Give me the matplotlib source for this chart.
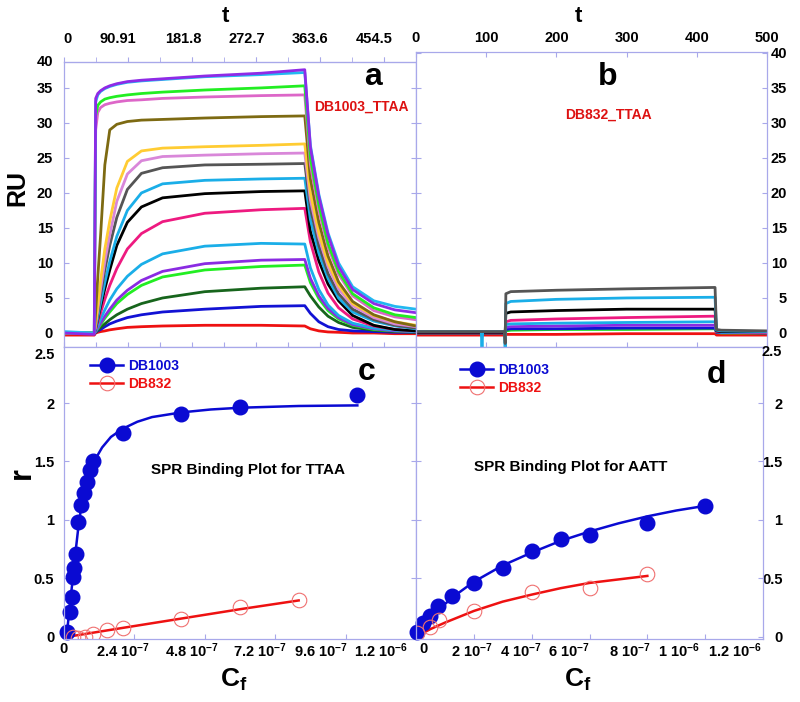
import numpy as np
import matplotlib
matplotlib.use('Agg')
import matplotlib.pyplot as plt
from matplotlib.lines import Line2D
from matplotlib.ticker import MultipleLocator
from matplotlib.transforms import ScaledTranslation

plt.rcParams['font.family'] = ['Liberation Sans', 'DejaVu Sans']
plt.rcParams['font.weight'] = 'bold'
plt.rcParams['axes.labelweight'] = 'bold'
plt.rcParams['mathtext.fontset'] = 'custom'
plt.rcParams['mathtext.rm'] = 'Liberation Sans:bold'
plt.rcParams['mathtext.bf'] = 'Liberation Sans:bold'
plt.rcParams['mathtext.default'] = 'bf'

# ---- panel a: DB1003 on TTAA sensorgrams (RU vs time, s) ----
t_a = [0, 43, 45, 48, 52, 58, 65, 75, 90, 110, 140, 200, 280, 342,
       350, 362, 375, 390, 410, 440, 470, 500]
ru_a_red = [-0.3, -0.3, 0.0, 0.1, 0.2, 0.3, 0.45, 0.6, 0.8, 0.9, 1.0, 1.1, 1.1, 1.0,
            0.6, 0.3, 0.15, 0.1, 0.0, 0.0, -0.1, -0.1]
ru_a_blue = [0.0, 0.0, 0.1, 0.3, 0.5, 0.9, 1.3, 1.7, 2.2, 2.6, 3.0, 3.4, 3.8, 3.9,
             2.8, 1.6, 0.9, 0.5, 0.3, 0.2, 0.1, 0.1]
ru_a_dkgreen = [0.0, 0.0, 0.1, 0.4, 0.8, 1.3, 1.9, 2.6, 3.4, 4.2, 5.0, 5.9, 6.4, 6.6,
                5.3, 3.7, 2.4, 1.5, 0.8, 0.4, 0.2, 0.1]
ru_a_green = [0.0, 0.0, 0.2, 0.6, 1.2, 2.1, 3.0, 4.2, 5.5, 6.8, 8.0, 9.0, 9.5, 9.7,
              7.2, 4.9, 3.2, 2.0, 1.1, 0.5, 0.3, 0.2]
ru_a_purple2 = [0.0, 0.0, 0.2, 0.7, 1.4, 2.4, 3.4, 4.7, 6.1, 7.5, 8.8, 9.9, 10.4, 10.5,
                7.8, 5.3, 3.5, 2.2, 1.2, 0.6, 0.3, 0.2]
ru_a_sky1 = [0.0, 0.0, 0.3, 1.0, 2.0, 3.3, 4.7, 6.3, 8.1, 9.8, 11.3, 12.4, 12.8, 12.7,
             9.3, 6.2, 4.0, 2.5, 1.4, 0.7, 0.4, 0.2]
ru_a_pink = [0.0, 0.0, 0.5, 1.5, 2.9, 4.8, 6.8, 9.2, 12.0, 14.2, 15.9, 17.1, 17.6, 17.8,
             13.0, 8.7, 5.7, 3.6, 2.0, 1.0, 0.5, 0.3]
ru_a_black = [0.0, 0.0, 0.7, 2.0, 3.8, 6.3, 9.0, 12.5, 15.8, 18.0, 19.3, 19.9, 20.2, 20.3,
              14.5, 10.3, 7.0, 4.6, 2.5, 1.1, 0.5, 0.3]
ru_a_sky2 = [0.0, 0.0, 0.8, 2.2, 4.3, 7.2, 10.2, 13.8, 17.5, 20.0, 21.3, 21.8, 22.0, 22.1,
             16.2, 11.4, 7.8, 5.0, 3.0, 1.7, 1.0, 0.6]
ru_a_gray = [0.0, 0.0, 1.0, 2.8, 5.5, 9.0, 12.5, 16.5, 20.5, 22.8, 23.6, 24.0, 24.1, 24.2,
             17.8, 12.5, 8.5, 5.6, 3.4, 1.9, 1.1, 0.7]
ru_a_plum = [0.0, 0.0, 1.2, 3.3, 6.3, 10.2, 14.0, 18.8, 22.7, 24.6, 25.2, 25.4, 25.6, 25.7,
             19.0, 13.6, 9.5, 6.3, 3.9, 2.2, 1.3, 0.9]
ru_a_gold = [0.0, 0.0, 1.5, 4.0, 7.5, 12.0, 16.0, 20.7, 24.5, 26.0, 26.4, 26.6, 26.8, 27.0,
             20.0, 14.3, 10.0, 6.8, 4.2, 2.5, 1.6, 1.1]
ru_a_olive = [0.0, 0.0, 3.0, 8.0, 14.0, 24.0, 29.0, 29.8, 30.2, 30.4, 30.5, 30.7, 30.9, 31.0,
              22.0, 15.8, 11.0, 7.3, 4.5, 2.6, 1.6, 1.0]
ru_a_orchid = [0.0, 0.0, 29.0, 31.5, 32.2, 32.6, 32.8, 33.0, 33.2, 33.3, 33.5, 33.7, 33.9, 34.0,
               24.0, 17.5, 12.3, 8.4, 5.3, 3.2, 2.3, 1.9]
ru_a_green_hi = [0.0, 0.0, 31.0, 32.5, 33.0, 33.4, 33.6, 33.8, 34.0, 34.2, 34.4, 34.7, 35.0, 35.3,
                 25.0, 18.3, 12.8, 8.8, 5.6, 3.6, 2.6, 2.2]
ru_a_cyan = [0.2, 0.0, 33.0, 34.0, 34.5, 34.9, 35.2, 35.5, 35.8, 36.0, 36.2, 36.6, 36.9, 37.2,
             26.8, 19.8, 14.3, 10.0, 6.6, 4.6, 3.8, 3.4]
ru_a_purple = [0.0, -0.2, 33.5, 34.2, 34.6, 35.0, 35.3, 35.6, 35.9, 36.1, 36.3, 36.7, 37.1, 37.6,
               26.5, 19.5, 14.0, 9.5, 6.2, 4.2, 3.3, 2.9]

# ---- panel b: DB832 on TTAA sensorgrams ----
t_b = [0, 93, 94, 95, 126, 127, 128, 135, 200, 300, 426, 428, 435, 500]
ru_b_red = [-0.3, -0.3, -0.3, -0.3, -0.3, -0.3, -0.2, -0.2, -0.2, -0.1, -0.1, -0.3, -0.3, -0.3]
ru_b_green = [0.0, 0.0, 0.0, 0.0, 0.0, 0.0, 0.3, 0.4, 0.5, 0.5, 0.6, 0.1, 0.0, 0.0]
ru_b_blue = [0.0, 0.0, 0.0, 0.0, 0.0, 0.0, 0.5, 0.6, 0.6, 0.7, 0.7, 0.1, 0.1, 0.0]
ru_b_purple = [0.1, 0.1, 0.1, 0.1, 0.1, 0.1, 0.8, 0.9, 1.0, 1.1, 1.1, 0.2, 0.1, 0.1]
ru_b_sky2 = [0.1, 0.1, 0.1, 0.1, 0.1, 0.1, 1.2, 1.3, 1.4, 1.5, 1.6, 0.2, 0.1, 0.1]
ru_b_pink = [0.1, 0.1, 0.1, 0.1, 0.1, 0.1, 1.6, 1.8, 2.0, 2.2, 2.4, 0.2, 0.2, 0.1]
ru_b_black = [0.1, 0.1, 0.1, 0.1, 0.1, 0.1, 2.8, 3.0, 3.2, 3.4, 3.4, 0.3, 0.2, 0.2]
ru_b_sky = [0.2, 0.2, -2.2, 0.2, 0.2, -2.0, 4.2, 4.5, 4.8, 5.0, 5.1, 0.4, 0.3, 0.2]
ru_b_gray = [0.2, 0.2, 0.2, 0.2, 0.2, -1.5, 5.6, 5.9, 6.1, 6.3, 6.5, 0.5, 0.4, 0.3]

# ---- panel c: binding plot TTAA (Cf in units of 1e-7 M) ----
cf_c_db1003 = [0.10, 0.20, 0.27, 0.31, 0.34, 0.41, 0.48, 0.58, 0.68, 0.79, 0.89, 1.0, 2.0, 4.0, 6.0, 10.0]
r_c_db1003 = [0.04, 0.21, 0.34, 0.51, 0.59, 0.71, 0.98, 1.13, 1.23, 1.32, 1.43, 1.50, 1.74, 1.91, 1.97, 2.07]
cf_c_db832 = [0.31, 0.48, 0.72, 0.99, 1.47, 2.0, 4.0, 6.0, 8.0]
r_c_db832 = [0.0, -0.01, 0.0, 0.02, 0.055, 0.075, 0.15, 0.25, 0.31]
fit_cf_c_db1003 = [0.1, 0.2, 0.3, 0.4, 0.5, 0.6, 0.7, 0.85, 1.0, 1.3, 1.6, 2.0, 2.5, 3.0, 4.0, 5.0, 6.0, 8.0, 10.0]
fit_r_c_db1003 = [0.03, 0.27, 0.50, 0.74, 0.96, 1.13, 1.26, 1.40, 1.49, 1.62, 1.71, 1.78, 1.84, 1.88, 1.92, 1.945, 1.96, 1.975, 1.98]
fit_cf_c_db832 = [0.15, 2.0, 4.0, 6.0, 8.0]
fit_r_c_db832 = [0.0, 0.075, 0.155, 0.235, 0.31]

# ---- panel d: binding plot AATT ----
cf_d_db1003 = [0.05, 0.25, 0.5, 0.75, 1.25, 2.0, 3.0, 4.0, 5.0, 6.0, 8.0, 10.0]
r_d_db1003 = [0.04, 0.12, 0.18, 0.26, 0.35, 0.46, 0.59, 0.73, 0.84, 0.87, 0.97, 1.12]
cf_d_db832 = [0.05, 0.5, 0.8, 2.0, 4.0, 6.0, 8.0]
r_d_db832 = [0.03, 0.085, 0.145, 0.22, 0.38, 0.42, 0.54]
fit_cf_d_db1003 = [0.0, 0.25, 0.5, 1.0, 1.5, 2.0, 3.0, 4.0, 5.0, 6.0, 7.0, 8.0, 9.0, 10.0]
fit_r_d_db1003 = [0.02, 0.09, 0.16, 0.28, 0.38, 0.47, 0.61, 0.72, 0.82, 0.90, 0.97, 1.03, 1.08, 1.12]
fit_cf_d_db832 = [0.0, 0.5, 1.0, 2.0, 3.0, 4.0, 5.0, 6.0, 7.0, 8.0]
fit_r_d_db832 = [0.0, 0.065, 0.12, 0.22, 0.30, 0.36, 0.415, 0.46, 0.49, 0.52]

# tick labels
top_ticks_a = [0, 90.91, 181.8, 272.7, 363.6, 454.5]
top_labels_a = ['0', '90.91', '181.8', '272.7', '363.6', '454.5']
cf_ticks_c = [0, 2.4e-7, 4.8e-7, 7.2e-7, 9.6e-7, 1.2e-6]
cf_labels_c = ['0', r'2.4 10$^{-7}$', r'4.8 10$^{-7}$', r'7.2 10$^{-7}$', r'9.6 10$^{-7}$', r'1.2 10$^{-6}$']
cf_ticks_d = [0, 2e-7, 4e-7, 6e-7, 8e-7, 1e-6, 1.2e-6]
cf_labels_d = ['0', r'2 10$^{-7}$', r'4 10$^{-7}$', r'6 10$^{-7}$', r'8 10$^{-7}$', r'1 10$^{-6}$', r'1.2 10$^{-6}$']

FRAME = '#a8a8ea'
BLUE = '#0a0ad2'
RED = '#ee1111'
RED_EDGE = '#f07070'
TICK_FS = 10.5

curves_a = [
    (ru_a_red, '#ee1111'), (ru_a_blue, '#1212d4'), (ru_a_dkgreen, '#17651c'),
    (ru_a_green, '#22ee22'), (ru_a_purple2, '#8a2be2'), (ru_a_sky1, '#1aaee8'),
    (ru_a_pink, '#ee1a80'), (ru_a_black, '#000000'), (ru_a_sky2, '#1aaee8'),
    (ru_a_gray, '#555555'), (ru_a_plum, '#d987d9'), (ru_a_gold, '#ffcc33'),
    (ru_a_olive, '#7d6a12'), (ru_a_orchid, '#dd66c8'), (ru_a_green_hi, '#22ee22'),
    (ru_a_cyan, '#22b8f0'), (ru_a_purple, '#8f2ae6'),
]
curves_b = [
    (ru_b_red, '#ee1111'), (ru_b_green, '#22dd22'), (ru_b_blue, '#1212d4'),
    (ru_b_purple, '#8a2be2'), (ru_b_sky2, '#1aaee8'), (ru_b_pink, '#ee1a80'),
    (ru_b_black, '#000000'), (ru_b_sky, '#1aaee8'), (ru_b_gray, '#555555'),
]


def px_box(x0, y0, x1, y1):
    return [x0 / 800, 1 - y1 / 702, (x1 - x0) / 800, (y1 - y0) / 702]


def style_frame(ax):
    for s in ax.spines.values():
        s.set_color(FRAME)
        s.set_linewidth(0.9)
    ax.tick_params(which='both', color=FRAME, direction='in', length=3.6, labelsize=TICK_FS)


def bold_ticks(ax):
    for lab in ax.get_xticklabels() + ax.get_yticklabels():
        lab.set_fontweight('bold')


def shift_labels(labels, dx_px, dy_px=0):
    for lab, dx in zip(labels, dx_px):
        lab.set_transform(lab.get_transform() + ScaledTranslation(dx / 100, dy_px / 100, fig.dpi_scale_trans))


fig = plt.figure(figsize=(8, 7.02), dpi=100)
ax_a = fig.add_axes(px_box(64, 62, 416, 347))
ax_b = fig.add_axes(px_box(416, 52, 767, 347))
ax_c = fig.add_axes(px_box(64, 347, 416, 639))
ax_d = fig.add_axes(px_box(416, 347, 763, 639))
for ax in (ax_a, ax_b, ax_c, ax_d):
    style_frame(ax)

# panel a
for vals, col in curves_a:
    ax_a.plot(t_a, vals, color=col, lw=2.0)
ax_a.set_xlim(0, 500)
ax_a.set_ylim(-2, 38.7)
ax_a.set_yticks(np.arange(0, 40, 5))
ax_a.tick_params(axis='y', left=True, right=True, pad=8)
ax_a.xaxis.set_major_locator(MultipleLocator(500 / 11))
ax_a.tick_params(axis='x', top=False, labelbottom=False)
ax_a.text(-11 / 352, 1.0, '40', transform=ax_a.transAxes, ha='right', va='center',
          fontsize=TICK_FS, fontweight='bold')
sec = ax_a.secondary_xaxis('top')
sec.set_xticks(top_ticks_a, labels=top_labels_a)
sec.xaxis.set_minor_locator(MultipleLocator(500 / 11))
sec.tick_params(which='both', direction='out', color=FRAME, length=3.6, labelsize=TICK_FS, pad=8)
sec.spines['top'].set_color(FRAME)
bold_ticks(sec)
shift_labels(sec.get_xticklabels(), [3, -10, -9, -9, -10, -10])
sec.set_xlabel('t', fontsize=16, fontweight='bold')
sec.xaxis.label.set_va('baseline')
sec.xaxis.set_label_coords(225 / 800, 1 - 22 / 702, transform=fig.transFigure)
ax_a.set_ylabel('RU', fontsize=18, fontweight='bold')
ax_a.yaxis.label.set_va('center')
ax_a.yaxis.set_label_coords(17 / 800, 1 - 188 / 702, transform=fig.transFigure)
ax_a.text(0.878, 0.947, 'a', transform=ax_a.transAxes, ha='center', va='center',
          fontsize=23, fontweight='bold')
ax_a.text(0.844, 0.842, 'DB1003_TTAA', transform=ax_a.transAxes, ha='center', va='center',
          fontsize=10, fontweight='bold', color='#dd1111')
bold_ticks(ax_a)

# panel b
for vals, col in curves_b:
    ax_b.plot(t_b, vals, color=col, lw=2.0)
ax_b.set_xlim(0, 500)
ax_b.set_ylim(-2, 40.1)
ax_b.set_xticks(np.arange(0, 501, 100))
ax_b.tick_params(axis='x', top=True, bottom=True, labeltop=True, labelbottom=False, pad=5)
ax_b.set_yticks(np.arange(0, 41, 5))
ax_b.tick_params(axis='y', left=True, right=True, labelleft=False, labelright=True, pad=14.4)
for tk in ax_b.yaxis.get_major_ticks():
    tk.label2.set_horizontalalignment('right')
ax_b.set_xlabel('t', fontsize=16, fontweight='bold')
ax_b.xaxis.label.set_va('baseline')
ax_b.xaxis.set_label_coords(578 / 800, 1 - 22 / 702, transform=fig.transFigure)
ax_b.text(0.547, 0.915, 'b', transform=ax_b.transAxes, ha='center', va='center',
          fontsize=23, fontweight='bold')
ax_b.text(0.547, 0.786, 'DB832_TTAA', transform=ax_b.transAxes, ha='center', va='center',
          fontsize=10, fontweight='bold', color='#dd1111')
bold_ticks(ax_b)

# panel c
sc = 1e-7
ax_c.plot(np.array(fit_cf_c_db1003) * sc, fit_r_c_db1003, color=BLUE, lw=1.8)
ax_c.plot(np.array(fit_cf_c_db832) * sc, fit_r_c_db832, color=RED, lw=1.8)
ax_c.plot(np.array(cf_c_db1003) * sc, r_c_db1003, 'o', color=BLUE, ms=10.5, clip_on=False)
ax_c.plot(np.array(cf_c_db832) * sc, r_c_db832, 'o', mfc='none', mec=RED_EDGE, mew=0.8, ms=10.5)
ax_c.set_xlim(0, 1.2e-6)
ax_c.set_ylim(-0.02, 2.48)
ax_c.set_xticks(cf_ticks_c, labels=cf_labels_c)
ax_c.set_yticks([0, 0.5, 1, 1.5, 2], labels=['0', '0.5', '1', '1.5', '2'])
ax_c.tick_params(axis='y', left=True, right=True, pad=7)
ax_c.tick_params(axis='x', pad=2)
bold_ticks(ax_c)
shift_labels(ax_c.get_xticklabels(), [0, -11, -13, -15, -25, -35])
ax_c.text(-9 / 352, 0.973, '2.5', transform=ax_c.transAxes, ha='right', va='center',
          fontsize=TICK_FS, fontweight='bold')
ax_c.set_ylabel('r', fontsize=22, fontweight='bold')
ax_c.yaxis.label.set_va('center')
ax_c.yaxis.set_label_coords(22 / 800, 1 - 473 / 702, transform=fig.transFigure)
ax_c.set_xlabel(r'C$_f$', fontsize=19, fontweight='bold')
ax_c.xaxis.label.set_va('baseline')
ax_c.xaxis.set_label_coords(234 / 800, 1 - 687 / 702, transform=fig.transFigure)
ax_c.text(0.86, 0.914, 'c', transform=ax_c.transAxes, ha='center', va='center',
          fontsize=23, fontweight='bold')
ax_c.text(0.523, 0.579, 'SPR Binding Plot for TTAA', transform=ax_c.transAxes,
          ha='center', va='center', fontsize=11, fontweight='bold')

# panel d
ax_d.plot(np.array(fit_cf_d_db1003) * sc, fit_r_d_db1003, color=BLUE, lw=1.8)
ax_d.plot(np.array(fit_cf_d_db832) * sc, fit_r_d_db832, color=RED, lw=1.8)
ax_d.plot(np.array(cf_d_db1003) * sc, r_d_db1003, 'o', color=BLUE, ms=10.5, clip_on=False)
ax_d.plot(np.array(cf_d_db832) * sc, r_d_db832, 'o', mfc='none', mec=RED_EDGE, mew=0.8, ms=10.5)
ax_d.set_xlim(0, 1.2e-6)
ax_d.set_ylim(-0.02, 2.48)
ax_d.set_xticks(cf_ticks_d, labels=cf_labels_d)
ax_d.set_yticks([0, 0.5, 1, 1.5, 2], labels=['0', '0.5', '1', '1.5', '2'])
ax_d.tick_params(axis='y', left=True, right=True, labelleft=False, labelright=True, pad=14)
for tk in ax_d.yaxis.get_major_ticks():
    tk.label2.set_horizontalalignment('right')
ax_d.tick_params(axis='x', pad=2)
bold_ticks(ax_d)
shift_labels(ax_d.get_xticklabels(), [7, -2, -11, -21, -17, -26, -28])
ax_d.text(1 + 19 / 347, 0.983, '2.5', transform=ax_d.transAxes, ha='right', va='center',
          fontsize=TICK_FS, fontweight='bold')
ax_d.set_xlabel(r'C$_f$', fontsize=19, fontweight='bold')
ax_d.xaxis.label.set_va('baseline')
ax_d.xaxis.set_label_coords(578 / 800, 1 - 687 / 702, transform=fig.transFigure)
ax_d.text(0.866, 0.904, 'd', transform=ax_d.transAxes, ha='center', va='center',
          fontsize=23, fontweight='bold')
ax_d.text(0.447, 0.589, 'SPR Binding Plot for AATT', transform=ax_d.transAxes,
          ha='center', va='center', fontsize=11, fontweight='bold')

# legends
handles = [Line2D([], [], color=BLUE, marker='o', ms=10.5, lw=1.8),
           Line2D([], [], color=RED, marker='o', mfc='none', mec=RED_EDGE, mew=0.8, ms=10.5, lw=1.8)]
for ax, anchor in ((ax_c, (0.074, 0.958)), (ax_d, (0.127, 0.945))):
    leg = ax.legend(handles, ['DB1003', 'DB832'], loc='upper left', bbox_to_anchor=anchor,
                    frameon=False, prop={'size': 10, 'weight': 'bold'}, borderpad=0,
                    borderaxespad=0, handlelength=2.4, handletextpad=0.35, labelspacing=0.25)
    for txt, col in zip(leg.get_texts(), (BLUE, RED)):
        txt.set_color(col)

fig.savefig('out.png', dpi=100)
